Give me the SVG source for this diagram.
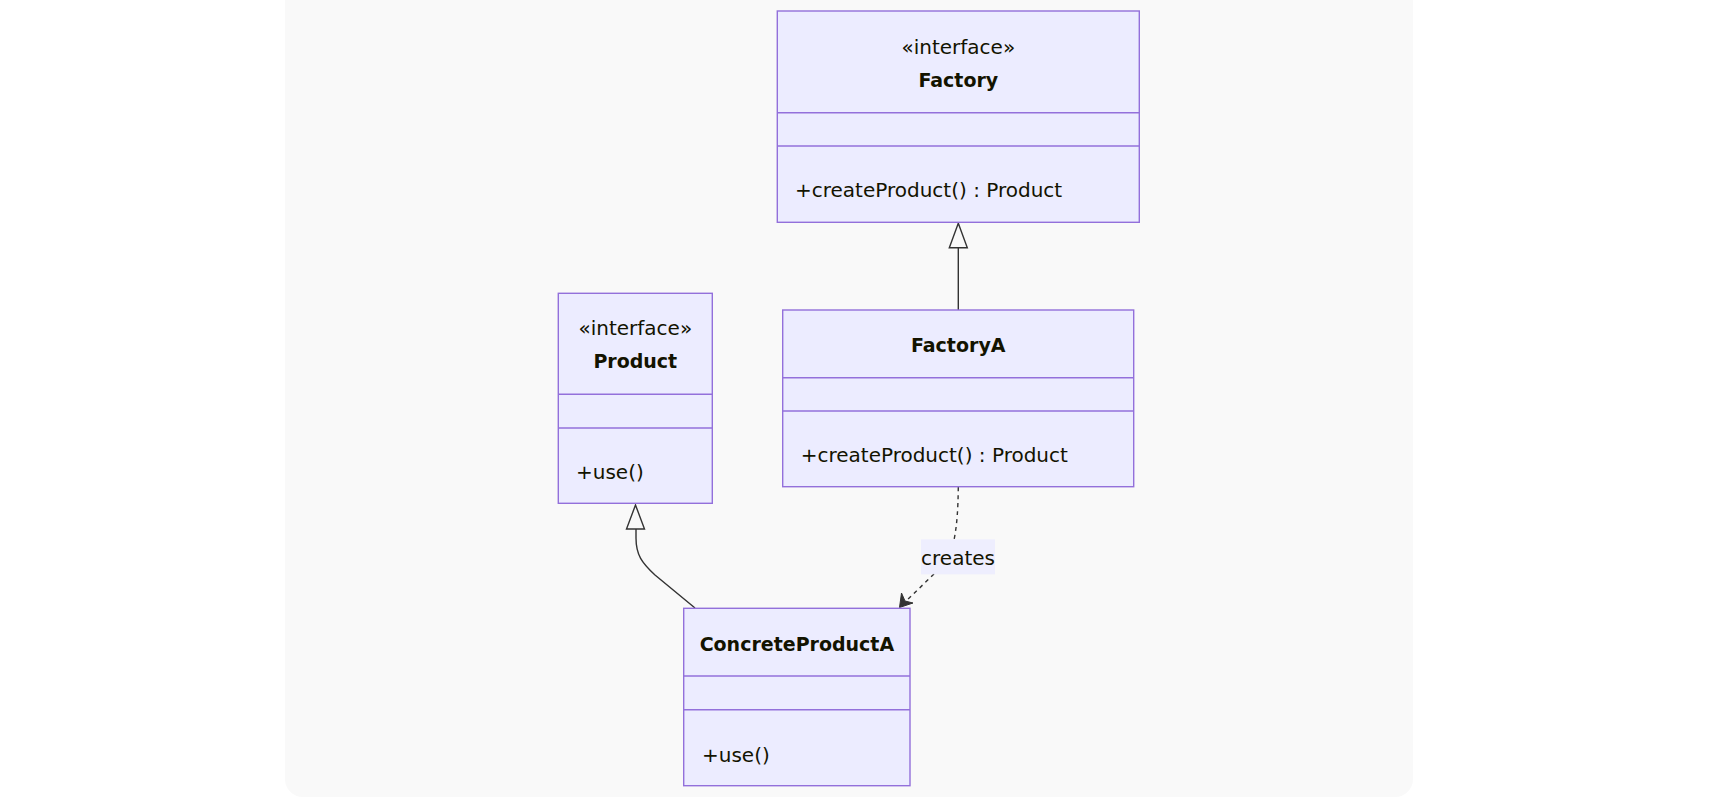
<svg xmlns="http://www.w3.org/2000/svg" width="1725" height="798" viewBox="0 0 1725 798">
<style>
  .box { fill: #ECECFF; stroke: #9370DB; stroke-width: 1.4; }
  .div { stroke: #9370DB; stroke-width: 1.4; }
  text { font-family: "DejaVu Sans", "Noto Sans", sans-serif; font-size: 20px; fill: #131300; }
  .title { font-weight: bold; text-anchor: middle; font-size: 19px; }
  .stereo { text-anchor: middle; }
  .edge { fill: none; stroke: #333333; stroke-width: 1.4; }
  .dash { stroke-dasharray: 4 4; }
</style>
<rect x="285" y="-20" width="1128" height="817" rx="18" fill="#f9f9f9"/>
<g id="connectors">
  <path class="edge" d="M958.3,310 L958.3,247.7"/>
  <path d="M958.3,223.3 L967.3,247.7 L949.3,247.7 Z" fill="#f9f9f9" stroke="#333333" stroke-width="1.4"/>
  <path class="edge" d="M695,608 L655,575 C642,563 636,555 636,538 L636,529"/>
  <path d="M635.5,505 L644.5,529 L626.5,529 Z" fill="#f9f9f9" stroke="#333333" stroke-width="1.4"/>
  <path class="edge dash" d="M958.3,487 C958,510 957,525 954,540"/>
  <path class="edge dash" d="M934,574 L903,604"/>
  <path d="M899.5,607.5 L901.5,593 L905,601 L913,603 Z" fill="#333333" stroke="#333333" stroke-width="1"/>
  <g id="label-creates">
    <rect x="921" y="539.3" width="74" height="35" fill="#ECECFF" opacity="0.85"/>
    <text x="958" y="564.5" text-anchor="middle">creates</text>
  </g>
</g>
<g id="Factory">
  <rect class="box" x="777.3" y="11" width="362" height="211.3"/>
  <line class="div" x1="777.3" y1="112.7" x2="1139.3" y2="112.7"/>
  <line class="div" x1="777.3" y1="146" x2="1139.3" y2="146"/>
  <text class="stereo" x="958.3" y="53.5">«interface»</text>
  <text class="title" x="958.3" y="87.3">Factory</text>
  <text x="795" y="196.7">+createProduct() : Product</text>
</g>
<g id="Product">
  <rect class="box" x="558.3" y="293.3" width="154" height="210"/>
  <line class="div" x1="558.3" y1="394.3" x2="712.3" y2="394.3"/>
  <line class="div" x1="558.3" y1="428" x2="712.3" y2="428"/>
  <text class="stereo" x="635.3" y="334.5">«interface»</text>
  <text class="title" x="635.3" y="368.3">Product</text>
  <text x="576" y="479.3">+use()</text>
</g>
<g id="FactoryA">
  <rect class="box" x="782.7" y="310" width="351" height="176.7"/>
  <line class="div" x1="782.7" y1="377.7" x2="1133.7" y2="377.7"/>
  <line class="div" x1="782.7" y1="411" x2="1133.7" y2="411"/>
  <text class="title" x="958.2" y="352.3">FactoryA</text>
  <text x="800.7" y="461.7">+createProduct() : Product</text>
</g>
<g id="ConcreteProductA">
  <rect class="box" x="683.7" y="608.3" width="226.3" height="177.4"/>
  <line class="div" x1="683.7" y1="676" x2="910" y2="676"/>
  <line class="div" x1="683.7" y1="709.7" x2="910" y2="709.7"/>
  <text class="title" x="796.9" y="650.7">ConcreteProductA</text>
  <text x="702" y="761.7">+use()</text>
</g>
</svg>
